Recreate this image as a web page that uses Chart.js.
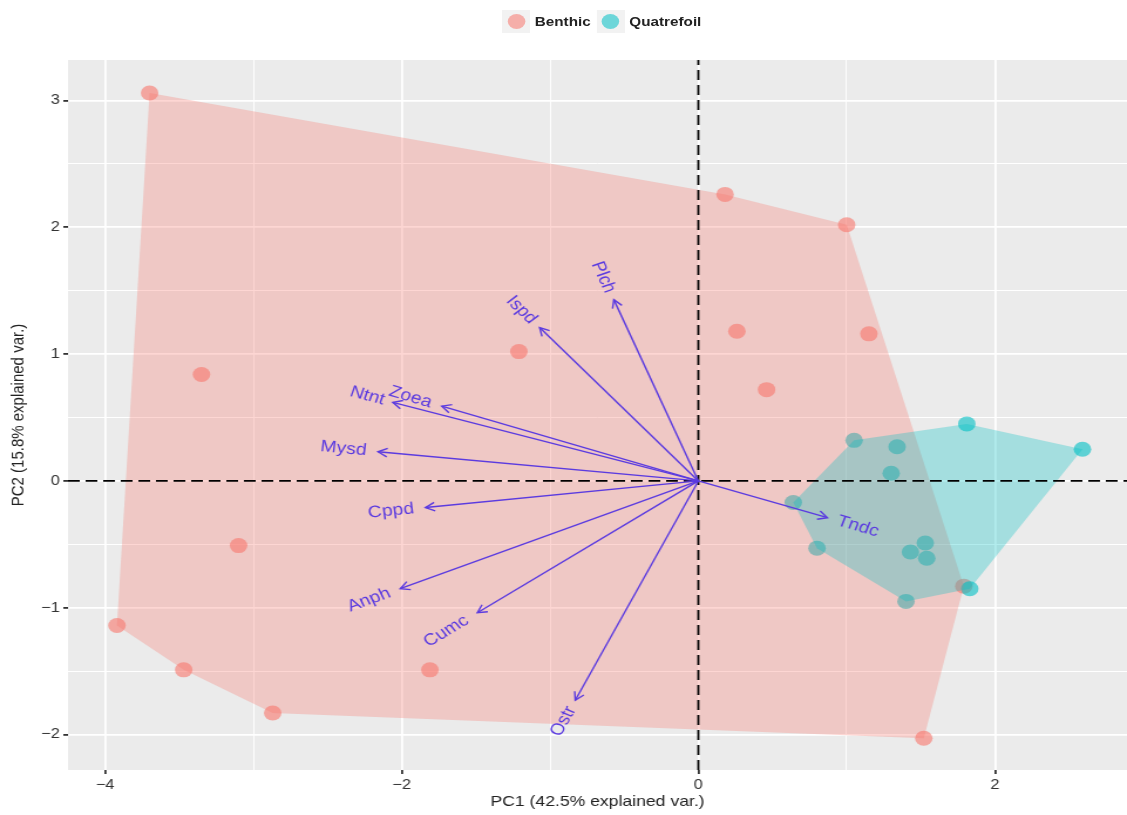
<!DOCTYPE html>
<html>
<head>
<meta charset="utf-8">
<script src="https://cdn.jsdelivr.net/npm/chart.js@4.4.1/dist/chart.umd.min.js"></script>
<style>
  html, body { margin: 0; padding: 0; background: #fff; overflow: hidden; }
  /* the source figure was drawn with equal axis units and then stretched sideways */
  #stage { position: absolute; left: 0; top: 0; width: 961px; height: 815px; transform: scaleX(1.1727); transform-origin: 0 0; }
  #chart { position: absolute; left: 0; top: 0; }
  .legend { position: absolute; top: 10px; left: 428px; display: flex; align-items: center;
            font: 600 13px "Liberation Sans", Arial, sans-serif; color: #222; }
  .item { display: flex; align-items: center; margin-right: 5px; }
  .key { width: 24px; height: 23px; background: #f2f2f2; display: flex; align-items: center; justify-content: center; margin-right: 4px; }
  .key span { width: 15px; height: 15px; border-radius: 50%; }
</style>
</head>
<body>
<div id="stage">
  <canvas id="chart" width="961" height="815"></canvas>
  <div class="legend">
    <div class="item"><div class="key"><span style="background:rgba(248,118,109,0.55)"></span></div>Benthic</div>
    <div class="item"><div class="key"><span style="background:rgba(0,191,196,0.55)"></span></div>Quatrefoil</div>
  </div>
</div>
<script>
// sample scores
const benthicPC1 = [-3.70, 0.18, 1.00, 0.26, 1.15, -1.21, -3.35, 0.46, -3.10, -3.92, -3.47, -2.87, -1.81, 1.52, 1.79];
const benthicPC2 = [3.06, 2.26, 2.02, 1.18, 1.16, 1.02, 0.84, 0.72, -0.51, -1.14, -1.49, -1.83, -1.49, -2.03, -0.83];
const quatPC1 = [1.81, 2.59, 1.05, 1.34, 1.30, 0.64, 0.80, 1.53, 1.43, 1.54, 1.40, 1.83];
const quatPC2 = [0.45, 0.25, 0.32, 0.27, 0.06, -0.17, -0.53, -0.49, -0.56, -0.61, -0.95, -0.85];

// variable loadings (arrow tips)
const varNames = ['Plch', 'Ispd', 'Ntnt', 'Zoea', 'Mysd', 'Cppd', 'Anph', 'Cumc', 'Ostr', 'Tndc'];
const loadPC1 = [-0.57, -1.07, -2.06, -1.73, -2.16, -1.84, -2.01, -1.49, -0.83, 0.87];
const loadPC2 = [1.43, 1.21, 0.62, 0.59, 0.23, -0.21, -0.85, -1.04, -1.73, -0.29];

// axes
const xMin = -4.25, xMax = 2.89, yMin = -2.28, yMax = 3.32;
const xMajor = [-4, -2, 0, 2];
const xMinor = [-3, -1, 1];
const yMajor = [-2, -1, 0, 1, 2, 3];
const yMinor = [-1.5, -0.5, 0.5, 1.5, 2.5];

const FONT = '"Liberation Sans", Arial, sans-serif';
const ARROW = '#5b3be0';

const toPts = (xs, ys) => xs.map((x, i) => ({ x, y: ys[i] }));

function hull(pts) {
  const p = pts.slice().sort((a, b) => a.x - b.x || a.y - b.y);
  const cross = (o, a, b) => (a.x - o.x) * (b.y - o.y) - (a.y - o.y) * (b.x - o.x);
  const lower = [], upper = [];
  for (const q of p) {
    while (lower.length >= 2 && cross(lower[lower.length - 2], lower[lower.length - 1], q) <= 0) lower.pop();
    lower.push(q);
  }
  for (let i = p.length - 1; i >= 0; i--) {
    const q = p[i];
    while (upper.length >= 2 && cross(upper[upper.length - 2], upper[upper.length - 1], q) <= 0) upper.pop();
    upper.push(q);
  }
  upper.pop(); lower.pop();
  const h = lower.concat(upper);
  h.push(h[0]);
  return h;
}

const benthic = toPts(benthicPC1, benthicPC2);
const quat = toPts(quatPC1, quatPC2);

const fmt = v => (v < 0 ? '\u2212' + Math.abs(v) : String(v));

function axisTicks(major, minor) {
  return s => { s.ticks = major.concat(minor).sort((a, b) => a - b).map(v => ({ value: v })); };
}

const panelBg = {
  id: 'panelBg',
  beforeDraw(chart) {
    const { ctx, chartArea: a } = chart;
    ctx.save();
    ctx.fillStyle = '#ebebeb';
    ctx.fillRect(a.left, a.top, a.right - a.left, a.bottom - a.top);
    ctx.restore();
  }
};

const arrowHeads = {
  id: 'arrowHeads',
  afterDatasetsDraw(chart) {
    const { ctx, scales: { x, y } } = chart;
    const ox = x.getPixelForValue(0), oy = y.getPixelForValue(0);
    ctx.save();
    ctx.strokeStyle = ARROW;
    ctx.fillStyle = ARROW;
    ctx.lineWidth = 1.4;
    ctx.font = '16.5px ' + FONT;
    ctx.textBaseline = 'middle';
    ctx.textAlign = 'left';
    varNames.forEach((name, i) => {
      const px = x.getPixelForValue(loadPC1[i]);
      const py = y.getPixelForValue(loadPC2[i]);
      const back = Math.atan2(oy - py, ox - px);
      const len = 9;
      ctx.beginPath();
      ctx.moveTo(px + len * Math.cos(back + 0.5), py + len * Math.sin(back + 0.5));
      ctx.lineTo(px, py);
      ctx.lineTo(px + len * Math.cos(back - 0.5), py + len * Math.sin(back - 0.5));
      ctx.stroke();

      // ggbiplot style: label at the tip, pushed outwards, rotated along the arrow
      const ang = Math.atan(loadPC2[i] / loadPC1[i]);
      const hj = (1 - 1.5 * Math.sign(loadPC1[i])) / 2;
      const w = ctx.measureText(name).width;
      ctx.save();
      ctx.translate(px, py);
      ctx.rotate(-ang);
      ctx.fillText(name, -hj * w, 0);
      ctx.restore();
    });
    ctx.restore();
  }
};

const arrowSets = varNames.map((name, i) => ({
  label: name,
  data: [{ x: 0, y: 0 }, { x: loadPC1[i], y: loadPC2[i] }],
  showLine: true,
  borderColor: ARROW,
  borderWidth: 1.4,
  pointRadius: 0,
  order: 1
}));

new Chart(document.getElementById('chart'), {
  type: 'scatter',
  data: {
    datasets: [
      ...arrowSets,
      {
        label: 'h0', data: [{ x: xMin, y: 0 }, { x: xMax, y: 0 }], showLine: true,
        borderColor: '#000', borderWidth: 1.8, borderDash: [10, 5], pointRadius: 0, order: 2
      },
      {
        label: 'v0', data: [{ x: 0, y: yMin }, { x: 0, y: yMax }], showLine: true,
        borderColor: '#000', borderWidth: 1.8, borderDash: [10, 5], pointRadius: 0, order: 2
      },
      {
        label: 'Quatrefoil hull', data: hull(quat), showLine: true, fill: 'shape',
        backgroundColor: 'rgba(0,191,196,0.3)', borderWidth: 0, borderColor: 'rgba(0,0,0,0)', pointRadius: 0, order: 3
      },
      {
        label: 'Benthic hull', data: hull(benthic), showLine: true, fill: 'shape',
        backgroundColor: 'rgba(248,118,109,0.3)', borderWidth: 0, borderColor: 'rgba(0,0,0,0)', pointRadius: 0, order: 3.5
      },
      {
        label: 'Quatrefoil', data: quat, pointRadius: 7.5, pointBorderWidth: 0,
        backgroundColor: 'rgba(0,191,196,0.6)', borderColor: 'rgba(0,0,0,0)', order: 4
      },
      {
        label: 'Benthic', data: benthic, pointRadius: 7.5, pointBorderWidth: 0,
        backgroundColor: 'rgba(248,118,109,0.6)', borderColor: 'rgba(0,0,0,0)', order: 4
      }
    ]
  },
  options: {
    responsive: false,
    animation: false,
    events: [],
    layout: { padding: { top: 60, right: 0, left: 0, bottom: 0 }, autoPadding: false },
    plugins: { legend: { display: false }, tooltip: { enabled: false } },
    scales: {
      x: {
        type: 'linear', min: xMin, max: xMax,
        afterBuildTicks: axisTicks(xMajor, xMinor),
        afterFit: s => { s.height = 45; },
        border: { display: false },
        grid: {
          color: '#fff',
          lineWidth: c => (xMajor.includes(c.tick.value) ? 1.8 : 1),
          tickColor: c => (xMajor.includes(c.tick.value) ? '#333' : 'rgba(0,0,0,0)'),
          tickLength: 4
        },
        ticks: {
          callback: v => (xMajor.includes(v) ? fmt(v) : ''),
          color: '#333', font: { family: FONT, size: 14 }, padding: 3,
          maxRotation: 0, autoSkip: false
        },
        title: {
          display: true, text: 'PC1 (42.5% explained var.)', color: '#222',
          font: { family: FONT, size: 15 }, padding: { top: 0, bottom: 4 }
        }
      },
      y: {
        type: 'linear', min: yMin, max: yMax,
        afterBuildTicks: axisTicks(yMajor, yMinor),
        afterFit: s => { s.width = 58; },
        border: { display: false },
        grid: {
          color: '#fff',
          lineWidth: c => (yMajor.includes(c.tick.value) ? 1.8 : 1),
          tickColor: c => (yMajor.includes(c.tick.value) ? '#333' : 'rgba(0,0,0,0)'),
          tickLength: 4
        },
        ticks: {
          callback: v => (yMajor.includes(v) ? fmt(v) : ''),
          color: '#333', font: { family: FONT, size: 14 }, padding: 3, autoSkip: false
        },
        title: {
          display: true, text: 'PC2 (15.8% explained var.)', color: '#222',
          font: { family: FONT, size: 15 }, padding: { top: 7, bottom: 0 }
        }
      }
    }
  },
  plugins: [panelBg, arrowHeads]
});
</script>
</body>
</html>
